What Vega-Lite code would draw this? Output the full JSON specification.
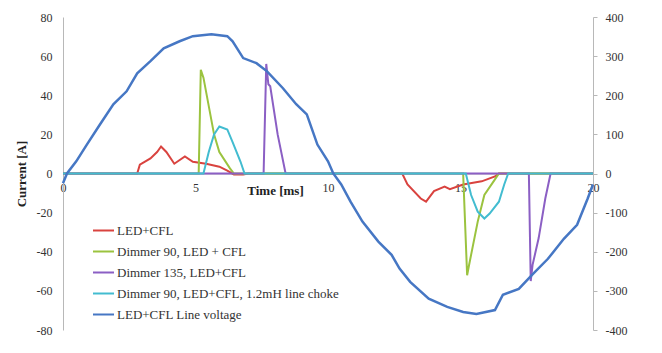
{
  "$schema": "https://vega.github.io/schema/vega-lite/v6.json",
  "width": 530,
  "height": 313,
  "autosize": "none",
  "padding": {"left": 63, "top": 17, "right": 69, "bottom": 23},
  "background": "white",
  "config": {
    "view": {"stroke": null},
    "font": "Times New Roman, Liberation Serif, serif",
    "axis": {"grid": false, "labelFont": "Times New Roman, Liberation Serif, serif", "labelFontSize": 12, "labelColor": "#333333", "domainColor": "#b8b8b8", "tickColor": "#b8b8b8", "titleFont": "Times New Roman, Liberation Serif, serif", "titleColor": "#222222"},
    "legend": {"labelFont": "Times New Roman, Liberation Serif, serif"}
  },
  "datasets": {
    "current": [
      {"series": "LED+CFL", "t": 0, "v": 0},
      {"series": "LED+CFL", "t": 2.8, "v": 0},
      {"series": "LED+CFL", "t": 2.9, "v": 4.5},
      {"series": "LED+CFL", "t": 3.3, "v": 7.7},
      {"series": "LED+CFL", "t": 3.55, "v": 11},
      {"series": "LED+CFL", "t": 3.7, "v": 13.8},
      {"series": "LED+CFL", "t": 3.9, "v": 11},
      {"series": "LED+CFL", "t": 4.2, "v": 5},
      {"series": "LED+CFL", "t": 4.6, "v": 8.7},
      {"series": "LED+CFL", "t": 4.9, "v": 6},
      {"series": "LED+CFL", "t": 5.4, "v": 5},
      {"series": "LED+CFL", "t": 5.9, "v": 3.5},
      {"series": "LED+CFL", "t": 6.2, "v": 1.5},
      {"series": "LED+CFL", "t": 6.45, "v": -0.5},
      {"series": "LED+CFL", "t": 6.8, "v": -0.5},
      {"series": "LED+CFL", "t": 7.0, "v": 0},
      {"series": "LED+CFL", "t": 12.8, "v": 0},
      {"series": "LED+CFL", "t": 13.0, "v": -5.6},
      {"series": "LED+CFL", "t": 13.5, "v": -12.8},
      {"series": "LED+CFL", "t": 13.7, "v": -14.4},
      {"series": "LED+CFL", "t": 14.0, "v": -9},
      {"series": "LED+CFL", "t": 14.4, "v": -6.7},
      {"series": "LED+CFL", "t": 14.6, "v": -8},
      {"series": "LED+CFL", "t": 15.1, "v": -5.6},
      {"series": "LED+CFL", "t": 15.8, "v": -4},
      {"series": "LED+CFL", "t": 16.3, "v": -1.5},
      {"series": "LED+CFL", "t": 16.45, "v": 0},
      {"series": "LED+CFL", "t": 20, "v": 0},
      {"series": "Dimmer 90, LED + CFL", "t": 0, "v": 0},
      {"series": "Dimmer 90, LED + CFL", "t": 5.12, "v": 0},
      {"series": "Dimmer 90, LED + CFL", "t": 5.2, "v": 53},
      {"series": "Dimmer 90, LED + CFL", "t": 5.3, "v": 49},
      {"series": "Dimmer 90, LED + CFL", "t": 5.7, "v": 20},
      {"series": "Dimmer 90, LED + CFL", "t": 5.9, "v": 11},
      {"series": "Dimmer 90, LED + CFL", "t": 6.3, "v": 2.6},
      {"series": "Dimmer 90, LED + CFL", "t": 6.45, "v": 0},
      {"series": "Dimmer 90, LED + CFL", "t": 15.1, "v": 0},
      {"series": "Dimmer 90, LED + CFL", "t": 15.25, "v": -52},
      {"series": "Dimmer 90, LED + CFL", "t": 15.32, "v": -47},
      {"series": "Dimmer 90, LED + CFL", "t": 15.65, "v": -24.6},
      {"series": "Dimmer 90, LED + CFL", "t": 15.9, "v": -11},
      {"series": "Dimmer 90, LED + CFL", "t": 16.3, "v": -3},
      {"series": "Dimmer 90, LED + CFL", "t": 16.45, "v": 0},
      {"series": "Dimmer 90, LED + CFL", "t": 20, "v": 0},
      {"series": "Dimmer 135, LED+CFL", "t": 0, "v": 0},
      {"series": "Dimmer 135, LED+CFL", "t": 7.57, "v": 0},
      {"series": "Dimmer 135, LED+CFL", "t": 7.67, "v": 56},
      {"series": "Dimmer 135, LED+CFL", "t": 7.75, "v": 45.6},
      {"series": "Dimmer 135, LED+CFL", "t": 7.82, "v": 44.6},
      {"series": "Dimmer 135, LED+CFL", "t": 8.1, "v": 20},
      {"series": "Dimmer 135, LED+CFL", "t": 8.4, "v": 0},
      {"series": "Dimmer 135, LED+CFL", "t": 17.58, "v": 0},
      {"series": "Dimmer 135, LED+CFL", "t": 17.65, "v": -55},
      {"series": "Dimmer 135, LED+CFL", "t": 17.72, "v": -46.7},
      {"series": "Dimmer 135, LED+CFL", "t": 17.95, "v": -33},
      {"series": "Dimmer 135, LED+CFL", "t": 18.2, "v": -12.8},
      {"series": "Dimmer 135, LED+CFL", "t": 18.4, "v": 0},
      {"series": "Dimmer 135, LED+CFL", "t": 20, "v": 0},
      {"series": "Dimmer 90, LED+CFL, 1.2mH line choke", "t": 0, "v": 0},
      {"series": "Dimmer 90, LED+CFL, 1.2mH line choke", "t": 5.3, "v": 0},
      {"series": "Dimmer 90, LED+CFL, 1.2mH line choke", "t": 5.5, "v": 11},
      {"series": "Dimmer 90, LED+CFL, 1.2mH line choke", "t": 5.7, "v": 20},
      {"series": "Dimmer 90, LED+CFL, 1.2mH line choke", "t": 5.9, "v": 24},
      {"series": "Dimmer 90, LED+CFL, 1.2mH line choke", "t": 6.2, "v": 22.5},
      {"series": "Dimmer 90, LED+CFL, 1.2mH line choke", "t": 6.4, "v": 16},
      {"series": "Dimmer 90, LED+CFL, 1.2mH line choke", "t": 6.7, "v": 6},
      {"series": "Dimmer 90, LED+CFL, 1.2mH line choke", "t": 6.85, "v": 0},
      {"series": "Dimmer 90, LED+CFL, 1.2mH line choke", "t": 15.2, "v": 0},
      {"series": "Dimmer 90, LED+CFL, 1.2mH line choke", "t": 15.4, "v": -11},
      {"series": "Dimmer 90, LED+CFL, 1.2mH line choke", "t": 15.65, "v": -19.5},
      {"series": "Dimmer 90, LED+CFL, 1.2mH line choke", "t": 15.9, "v": -23},
      {"series": "Dimmer 90, LED+CFL, 1.2mH line choke", "t": 16.1, "v": -20.5},
      {"series": "Dimmer 90, LED+CFL, 1.2mH line choke", "t": 16.45, "v": -14.4},
      {"series": "Dimmer 90, LED+CFL, 1.2mH line choke", "t": 16.65, "v": -5.6},
      {"series": "Dimmer 90, LED+CFL, 1.2mH line choke", "t": 16.8, "v": 0},
      {"series": "Dimmer 90, LED+CFL, 1.2mH line choke", "t": 20, "v": 0}
    ],
    "voltage": [
      {"series": "LED+CFL Line voltage", "t": 0, "v": -25},
      {"series": "LED+CFL Line voltage", "t": 0.15, "v": 0},
      {"series": "LED+CFL Line voltage", "t": 0.5, "v": 31},
      {"series": "LED+CFL Line voltage", "t": 0.9, "v": 74},
      {"series": "LED+CFL Line voltage", "t": 1.4, "v": 126},
      {"series": "LED+CFL Line voltage", "t": 1.9, "v": 177},
      {"series": "LED+CFL Line voltage", "t": 2.4, "v": 210},
      {"series": "LED+CFL Line voltage", "t": 2.8, "v": 256},
      {"series": "LED+CFL Line voltage", "t": 3.3, "v": 287},
      {"series": "LED+CFL Line voltage", "t": 3.8, "v": 320},
      {"series": "LED+CFL Line voltage", "t": 4.4, "v": 338},
      {"series": "LED+CFL Line voltage", "t": 4.9, "v": 351},
      {"series": "LED+CFL Line voltage", "t": 5.6, "v": 356},
      {"series": "LED+CFL Line voltage", "t": 6.2, "v": 351},
      {"series": "LED+CFL Line voltage", "t": 6.4, "v": 338},
      {"series": "LED+CFL Line voltage", "t": 6.8, "v": 295},
      {"series": "LED+CFL Line voltage", "t": 7.3, "v": 282},
      {"series": "LED+CFL Line voltage", "t": 7.7, "v": 261},
      {"series": "LED+CFL Line voltage", "t": 8.3, "v": 218},
      {"series": "LED+CFL Line voltage", "t": 8.8, "v": 177},
      {"series": "LED+CFL Line voltage", "t": 9.2, "v": 151},
      {"series": "LED+CFL Line voltage", "t": 9.6, "v": 74},
      {"series": "LED+CFL Line voltage", "t": 10.0, "v": 31},
      {"series": "LED+CFL Line voltage", "t": 10.2, "v": 0},
      {"series": "LED+CFL Line voltage", "t": 10.5, "v": -28},
      {"series": "LED+CFL Line voltage", "t": 10.85, "v": -72},
      {"series": "LED+CFL Line voltage", "t": 11.3, "v": -123},
      {"series": "LED+CFL Line voltage", "t": 11.9, "v": -174},
      {"series": "LED+CFL Line voltage", "t": 12.4, "v": -208},
      {"series": "LED+CFL Line voltage", "t": 12.7, "v": -243},
      {"series": "LED+CFL Line voltage", "t": 13.1, "v": -277},
      {"series": "LED+CFL Line voltage", "t": 13.8, "v": -320},
      {"series": "LED+CFL Line voltage", "t": 14.5, "v": -341},
      {"series": "LED+CFL Line voltage", "t": 15.1, "v": -354},
      {"series": "LED+CFL Line voltage", "t": 15.6, "v": -359},
      {"series": "LED+CFL Line voltage", "t": 16.3, "v": -349},
      {"series": "LED+CFL Line voltage", "t": 16.6, "v": -310},
      {"series": "LED+CFL Line voltage", "t": 17.2, "v": -295},
      {"series": "LED+CFL Line voltage", "t": 17.7, "v": -259},
      {"series": "LED+CFL Line voltage", "t": 18.3, "v": -218},
      {"series": "LED+CFL Line voltage", "t": 18.9, "v": -167},
      {"series": "LED+CFL Line voltage", "t": 19.4, "v": -131},
      {"series": "LED+CFL Line voltage", "t": 19.8, "v": -64},
      {"series": "LED+CFL Line voltage", "t": 20, "v": -28}
    ]
  },
  "layer": [
    {
      "data": {"name": "current"},
      "mark": {"type": "line", "strokeWidth": 2, "clip": false},
      "encoding": {
        "x": {"field": "t", "type": "quantitative", "scale": {"domain": [0, 20], "nice": false},
          "axis": {"orient": "bottom", "offset": -156.5, "values": [0, 5, 10, 15, 20], "ticks": false, "labelPadding": 9, "labelFlush": false,
            "labelFontSize": 12,
            "title": "Time [ms]", "titleFontSize": 13, "titleFontWeight": "bold", "titleX": 212, "titleY": 17, "titleBaseline": "middle", "titleAlign": "center", "titleAnchor": null}},
        "y": {"field": "v", "type": "quantitative", "scale": {"domain": [-80, 80], "nice": false, "zero": false},
          "axis": {"orient": "left", "values": [-80, -60, -40, -20, 0, 20, 40, 60, 80], "ticks": false, "labelPadding": 11,
            "labelFontSize": 12, "labelExpr": "replace(datum.label, '\u2212', '-')",
            "title": "Current [A]", "titleFontSize": 13, "titleFontWeight": "bold", "titleX": -42, "titleY": 156.5, "titleBaseline": "middle", "titleAlign": "center", "titleAngle": -90}},
        "color": {"field": "series", "type": "nominal",
          "scale": {"domain": ["LED+CFL", "Dimmer 90, LED + CFL", "Dimmer 135, LED+CFL", "Dimmer 90, LED+CFL, 1.2mH line choke", "LED+CFL Line voltage"],
            "range": ["#d9433f", "#9bc33f", "#8b5fc4", "#42bcd0", "#4677c4"]},
          "legend": {"orient": "none", "legendX": 29, "legendY": 202, "title": null, "symbolType": "stroke", "symbolSize": 441, "symbolStrokeWidth": 2,
            "labelFontSize": 13, "labelColor": "#333333", "labelOffset": 2, "rowPadding": 2, "labelLimit": 400}}
      }
    },
    {
      "data": {"name": "voltage"},
      "mark": {"type": "line", "strokeWidth": 2.5, "clip": false},
      "encoding": {
        "x": {"field": "t", "type": "quantitative", "scale": {"domain": [0, 20], "nice": false}},
        "y": {"field": "v", "type": "quantitative", "scale": {"domain": [-400, 400], "nice": false, "zero": false},
          "axis": {"orient": "right", "values": [-400, -300, -200, -100, 0, 100, 200, 300, 400], "ticks": true, "tickSize": 4, "labelPadding": 8,
            "labelFontSize": 12, "labelExpr": "replace(datum.label, '\u2212', '-')", "title": null}},
        "color": {"field": "series", "type": "nominal"}
      }
    }
  ],
  "resolve": {"scale": {"y": "independent"}}
}
